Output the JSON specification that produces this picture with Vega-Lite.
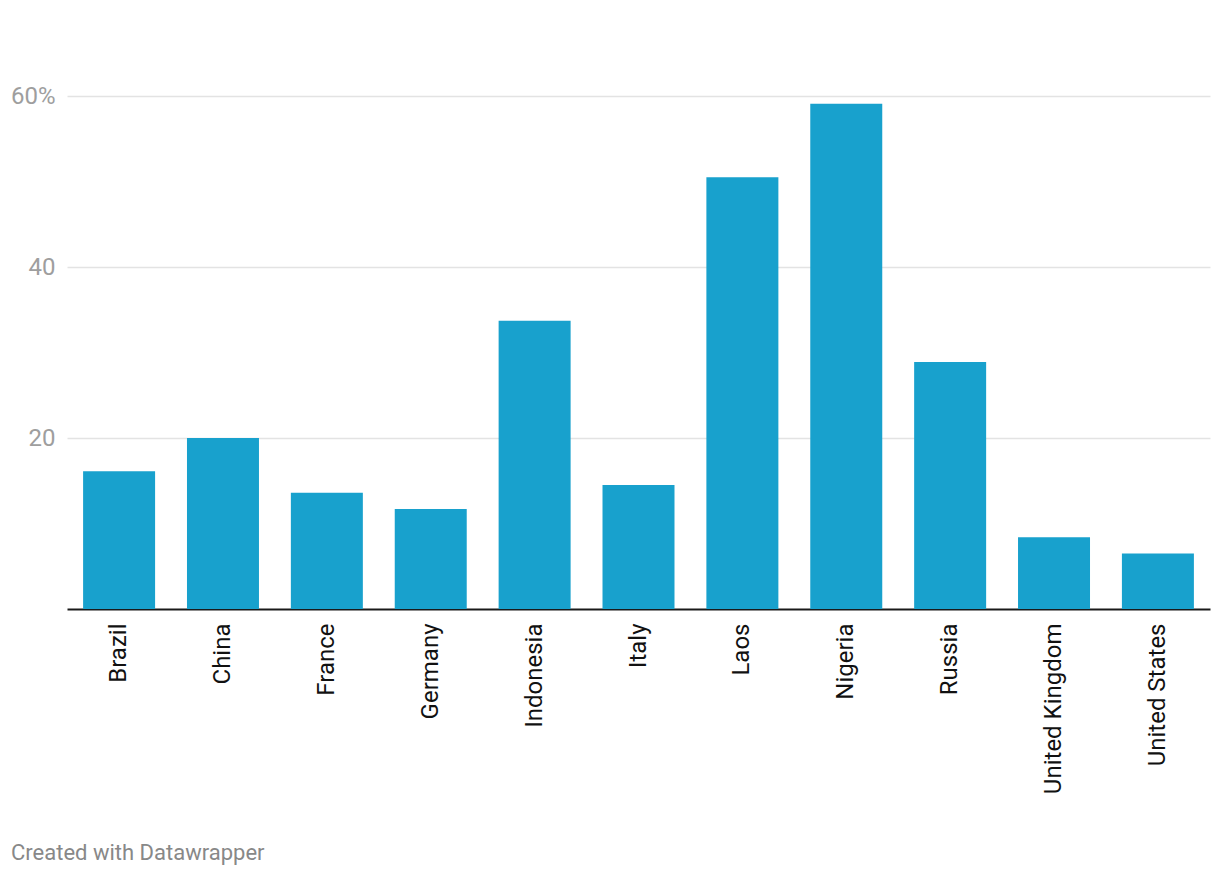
{
  "$schema": "https://vega.github.io/schema/vega-lite/v6.json",
  "width": 1143,
  "height": 513,
  "autosize": {"type": "none"},
  "padding": {"left": 67, "top": 96, "right": 10, "bottom": 269},
  "background": "white",
  "config": {"view": {"stroke": null}, "font": "Roboto"},
  "title": {
    "text": "Created with Datawrapper",
    "orient": "bottom",
    "anchor": "start",
    "frame": "group",
    "dx": -56,
    "offset": 49,
    "font": "Roboto",
    "fontSize": 22,
    "fontWeight": "normal",
    "color": "#888888"
  },
  "data": {
    "values": [
      {"country": "Brazil", "value": 16.1},
      {"country": "China", "value": 20.0},
      {"country": "France", "value": 13.6},
      {"country": "Germany", "value": 11.7},
      {"country": "Indonesia", "value": 33.7},
      {"country": "Italy", "value": 14.5},
      {"country": "Laos", "value": 50.5},
      {"country": "Nigeria", "value": 59.1},
      {"country": "Russia", "value": 28.9},
      {"country": "United Kingdom", "value": 8.4},
      {"country": "United States", "value": 6.5}
    ]
  },
  "mark": {"type": "bar", "color": "#18a1cd"},
  "encoding": {
    "x": {
      "field": "country",
      "type": "nominal",
      "sort": null,
      "scale": {"paddingInner": 0.307, "paddingOuter": 0.155},
      "axis": {
        "title": null,
        "labelAngle": -90,
        "labelAlign": "right",
        "labelBaseline": "middle",
        "labelFontSize": 24,
        "labelLimit": 0,
        "labelColor": "#111111",
        "labelPadding": 14,
        "ticks": false,
        "domainColor": "#1a1a1a",
        "domainWidth": 2,
        "grid": false
      }
    },
    "y": {
      "field": "value",
      "type": "quantitative",
      "scale": {"domain": [0, 60], "nice": false},
      "axis": {
        "title": null,
        "values": [20, 40, 60],
        "labelExpr": "datum.value == 60 ? '60%' : datum.label",
        "labelFontSize": 24,
        "labelColor": "#9e9e9e",
        "labelPadding": 12,
        "labelBaseline": "middle",
        "ticks": false,
        "domain": false,
        "grid": true,
        "gridColor": "#e3e3e3",
        "gridWidth": 1.5
      }
    }
  }
}
